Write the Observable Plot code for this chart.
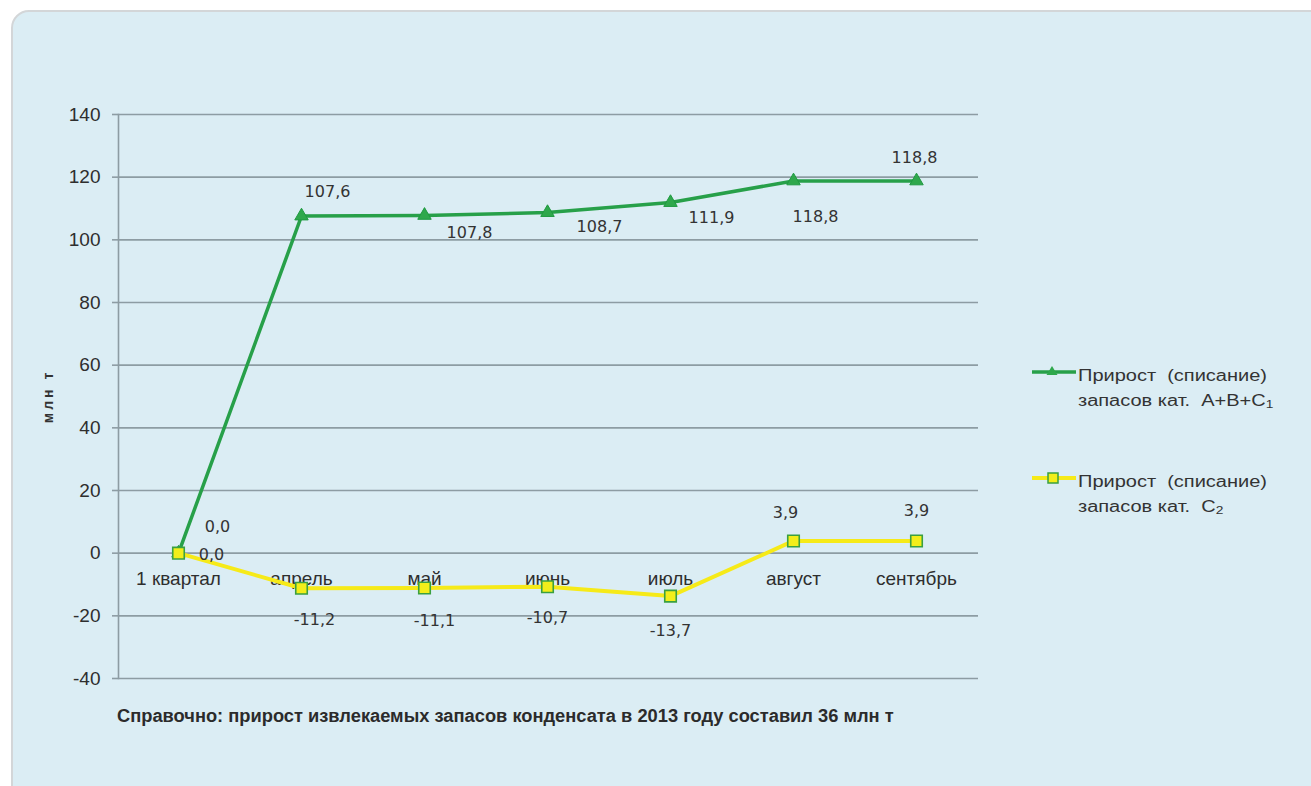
<!DOCTYPE html>
<html>
<head>
<meta charset="utf-8">
<script src="https://cdn.jsdelivr.net/npm/d3@7"></script>
<script src="https://cdn.jsdelivr.net/npm/@observablehq/plot@0.6"></script>
<style>
  html, body { margin: 0; padding: 0; background: #ffffff; width: 1311px; height: 786px; overflow: hidden; }
  #panel { position: absolute; left: 11px; top: 10px; width: 1340px; height: 820px; background: #dbedf4;
           border: 2px solid #d3d6d8; border-radius: 18px; box-sizing: border-box; }
  #chart { position: absolute; left: 0; top: 0; }
  #legend { position: absolute; left: 1030px; top: 360px; font-family: "Liberation Sans", Arial, sans-serif;
            font-size: 16px; color: #333; }
  .item { position: absolute; left: 0; width: 270px; }
  .item svg { position: absolute; left: 0; top: 0; }
  .item .txt { position: absolute; left: 48px; top: 3px; line-height: 25px; white-space: nowrap;
               transform: scaleX(1.25); transform-origin: 0 0; }
  .item .txt sub { font-size: 11px; vertical-align: -2px; }
  #note { position: absolute; left: 117px; top: 705px; font-family: "Liberation Sans", Arial, sans-serif;
          font-weight: bold; font-size: 18.3px; color: #2b2b2b; white-space: nowrap; }
</style>
</head>
<body>
<div id="panel"></div>
<div id="chart"></div>
<div id="legend">
  <div class="item" style="top:0px">
    <svg width="48" height="24"><line x1="2" y1="12" x2="46" y2="12" stroke="#27a049" stroke-width="3.5"/>
      <path d="M22,6 L27.5,15 L16.5,15 Z" fill="#2fa84c"/></svg>
    <div class="txt">Прирост&nbsp; (списание)<br>запасов кат.&nbsp; A+B+C<sub>1</sub></div>
  </div>
  <div class="item" style="top:106px">
    <svg width="48" height="24"><line x1="2" y1="12" x2="46" y2="12" stroke="#f6ea18" stroke-width="4"/>
      <rect x="18" y="7" width="10" height="10" fill="#f2ee1a" stroke="#3aa040" stroke-width="1.5"/></svg>
    <div class="txt">Прирост&nbsp; (списание)<br>запасов кат.&nbsp; C<sub>2</sub></div>
  </div>
</div>
<div id="note">Справочно: прирост извлекаемых запасов конденсата в 2013 году составил 36 млн т</div>
<script>
// ---- data ----
const categories = ["1 квартал", "апрель", "май", "июнь", "июль", "август", "сентябрь"];
const seriesABC1 = [0.0, 107.6, 107.8, 108.7, 111.9, 118.8, 118.8];
const seriesC2 = [0.0, -11.2, -11.1, -10.7, -13.7, 3.9, 3.9];
const yTicks = [-40, -20, 0, 20, 40, 60, 80, 100, 120, 140];
const yLabel = "млн т";

// ---- rendering ----
const fmt = v => v.toFixed(1).replace(".", ",");
const green = categories.map((c, i) => ({cat: c, v: seriesABC1[i], i}));
const yellow = categories.map((c, i) => ({cat: c, v: seriesC2[i], i}));
// label offsets (dx, dy) as placed in the original
const gOff = [[39, -26], [26, -24], [45, 17], [52, 14], [41, 15], [22, 36], [-2, -23]];
const yOff = [[33, 2], [13, 32], [10, 33], [0, 31], [0, 35], [-8, -28], [0, -30]];
const labelMarks = (data, off) => data.map((d, k) => Plot.text([d], {
  x: "cat", y: "v", text: d => fmt(d.v), dx: off[k][0], dy: off[k][1],
  fill: "#333", fontSize: 16, fontFamily: "DejaVu Sans, sans-serif"
}));

const gridColor = "#8d9ca3";
const chart = Plot.plot({
  width: 1000,
  height: 700,
  marginLeft: 118,
  marginRight: 22,
  marginTop: 114,
  marginBottom: 22,
  style: {background: "transparent", fontFamily: "Liberation Sans, Arial, sans-serif", color: "#333"},
  x: {type: "point", domain: categories, range: [177, 917], padding: 0, axis: null},
  y: {domain: [-40, 140]},
  marks: [
    Plot.gridY(yTicks, {stroke: gridColor, strokeOpacity: 1, strokeWidth: 1.6}),
    Plot.axisY(yTicks, {tickSize: 6, tickPadding: 12, stroke: gridColor, strokeWidth: 1.6, fontSize: 19, fill: "#2e2e2e", label: null, tickFormat: d => d}),
    Plot.frame({anchor: "left", stroke: gridColor, strokeWidth: 1.6}),
    Plot.text([yLabel], {frameAnchor: "left", textAnchor: "middle", rotate: -90, dx: -70, fontSize: 14, fontWeight: "bold", fill: "#333", className: "ylab"}),
    Plot.text(categories, {x: d => d, y: () => 0, dy: 26, fontSize: 19, fill: "#2e2e2e"}),
    Plot.line(green, {x: "cat", y: "v", stroke: "#27a049", strokeWidth: 3.5}),
    Plot.dot(green, {x: "cat", y: "v", symbol: "triangle", r: 5, fill: "#2fa84c", stroke: "#1f9a40", strokeWidth: 1}),
    Plot.line(yellow, {x: "cat", y: "v", stroke: "#f6ea18", strokeWidth: 4}),
    Plot.dot(yellow, {x: "cat", y: "v", symbol: "square", r: 6.5, fill: "#f2ee1a", stroke: "#3aa040", strokeWidth: 1.6}),
    ...labelMarks(green, gOff),
    ...labelMarks(yellow, yOff)
  ]
});
d3.select(chart).selectAll(".ylab text").attr("letter-spacing", "3px");
document.getElementById("chart").appendChild(chart);
</script>
</body>
</html>
